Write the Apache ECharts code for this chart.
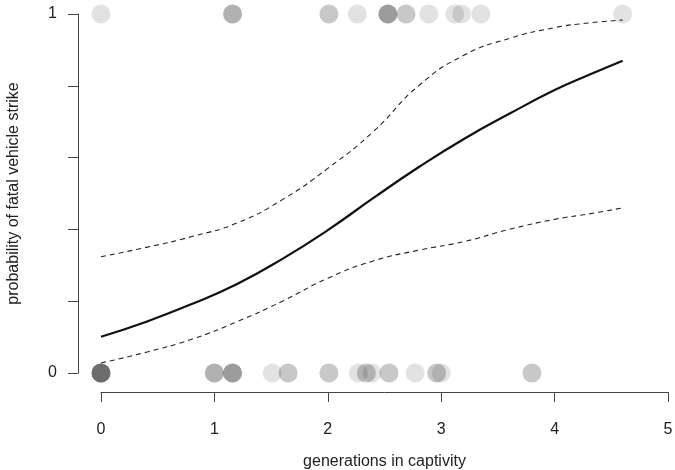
<!DOCTYPE html>
<html>
<head>
<meta charset="utf-8">
<script src="https://cdn.jsdelivr.net/npm/echarts@6/dist/echarts.min.js"></script>
<style>html,body{margin:0;padding:0;background:#fff}#c{width:675px;height:470px}</style>
</head>
<body>
<div id="c"></div>
<script>
// Observed outcomes (duplicates = overlapping individuals)
var strikeGenerations = [0, 1.16, 1.16, 1.16, 2.01, 2.01, 2.26, 2.53, 2.53, 2.53, 2.53, 2.69, 2.69, 2.89, 3.12, 3.18, 3.35, 4.60];
var noStrikeGenerations = [0, 0, 0, 0, 0, 0, 0, 1.00, 1.00, 1.00, 1.16, 1.16, 1.16, 1.16, 1.51, 1.65, 1.65, 2.01, 2.01, 2.27, 2.34, 2.34, 2.39, 2.54, 2.54, 2.77, 2.96, 2.96, 3.00, 3.80, 3.80];

// Fitted curve and confidence band
var curveX = [0, 0.4, 0.8, 1.2, 1.6, 2.0, 2.4, 2.8, 3.2, 3.6, 4.0, 4.3, 4.6];
var fitted = [0.101, 0.143, 0.192, 0.248, 0.318, 0.398, 0.487, 0.573, 0.652, 0.722, 0.788, 0.830, 0.870];
var upperCI = [0.324, 0.350, 0.380, 0.418, 0.483, 0.570, 0.672, 0.800, 0.885, 0.932, 0.962, 0.975, 0.983];
var lowerCI = [0.028, 0.058, 0.094, 0.143, 0.200, 0.264, 0.312, 0.342, 0.366, 0.400, 0.428, 0.443, 0.460];

var xTicks = [0, 1, 2, 3, 4, 5];
var yTickLabels = [0, 1];

function pairs(xs, ys) { return xs.map(function (x, i) { return [x, ys[i]]; }); }
function row(xs, y) { return xs.map(function (x) { return [x, y]; }); }

var font = 'Liberation Sans, Arial, sans-serif';
var chart = echarts.init(document.getElementById('c'), null, {renderer: 'canvas'});
chart.setOption({
  animation: false,
  backgroundColor: '#fff',
  grid: {left: 101, right: 7, top: 14, bottom: 97, containLabel: false, outerBoundsMode: 'none'},
  xAxis: {
    type: 'value', min: xTicks[0], max: xTicks[xTicks.length - 1], interval: 1,
    offset: 19,
    name: 'generations in captivity', nameLocation: 'middle', nameGap: 62,
    nameTextStyle: {fontFamily: font, fontSize: 16, color: '#222'},
    axisLine: {show: true, onZero: false, lineStyle: {color: '#444', width: 1}},
    axisTick: {show: true, inside: false, length: 10, lineStyle: {color: '#444'}},
    axisLabel: {fontFamily: font, fontSize: 16, color: '#222', margin: 30,
      formatter: function (v) { return xTicks.indexOf(v) >= 0 ? String(v) : ''; }},
    splitLine: {show: false}
  },
  yAxis: {
    type: 'value', min: 0, max: 1, interval: 0.2,
    offset: 23,
    name: 'probability of fatal vehicle strike', nameLocation: 'middle', nameGap: 56, nameRotate: 90,
    nameTextStyle: {fontFamily: font, fontSize: 16, color: '#222'},
    axisLine: {show: true, onZero: false, lineStyle: {color: '#444', width: 1}},
    axisTick: {show: true, inside: false, length: 10, lineStyle: {color: '#444'}},
    axisLabel: {fontFamily: font, fontSize: 16, color: '#222', margin: 21,
      formatter: function (v) {
        for (var i = 0; i < yTickLabels.length; i++) { if (Math.abs(v - yTickLabels[i]) < 1e-9) return String(yTickLabels[i]); }
        return '';
      }},
    splitLine: {show: false}
  },
  series: [
    {type: 'scatter', data: row(strikeGenerations, 1), symbolSize: 19, clip: false,
      itemStyle: {color: 'rgba(0,0,0,0.14)', borderWidth: 0}, z: 1},
    {type: 'scatter', data: row(noStrikeGenerations, 0), symbolSize: 19, clip: false,
      itemStyle: {color: 'rgba(0,0,0,0.14)', borderWidth: 0}, z: 1},
    {type: 'line', data: pairs(curveX, fitted), smooth: true, showSymbol: false, symbol: 'none',
      lineStyle: {color: '#111', width: 2.2}, z: 3},
    {type: 'line', data: pairs(curveX, upperCI), smooth: true, showSymbol: false, symbol: 'none',
      lineStyle: {color: '#222', width: 1.1, type: [5, 4]}, z: 2},
    {type: 'line', data: pairs(curveX, lowerCI), smooth: true, showSymbol: false, symbol: 'none',
      lineStyle: {color: '#222', width: 1.1, type: [5, 4]}, z: 2}
  ]
});
</script>
</body>
</html>
